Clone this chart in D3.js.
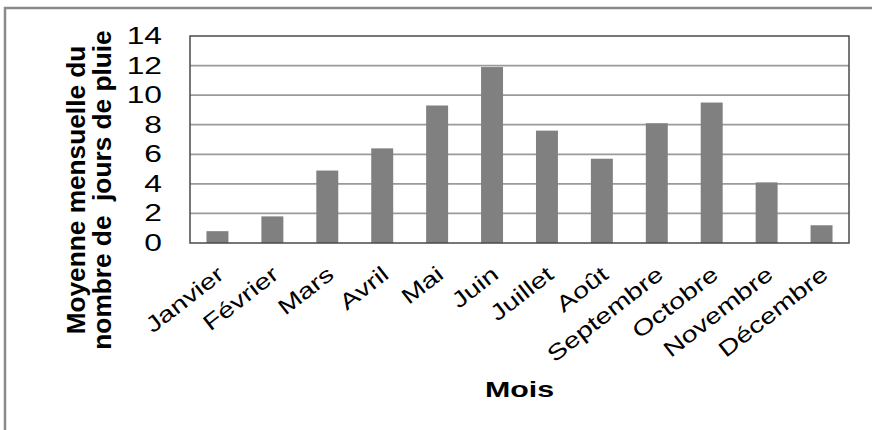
<!doctype html>
<html>
<head>
<meta charset="utf-8">
<title>Jours de pluie</title>
<script src="https://cdn.jsdelivr.net/npm/d3@7"></script>
<style>
  body { margin: 0; background: #fff; }
  text { font-family: "Liberation Sans", Arial, sans-serif; fill: #000; }
</style>
</head>
<body>
<div class="chart"></div>
<script>
// data
var mois = ["Janvier", "Février", "Mars", "Avril", "Mai", "Juin",
            "Juillet", "Août", "Septembre", "Octobre", "Novembre", "Décembre"];
var joursPluie = [0.8, 1.8, 4.9, 6.4, 9.3, 11.9, 7.6, 5.7, 8.1, 9.5, 4.1, 1.2];
var yTicks = [0, 2, 4, 6, 8, 10, 12, 14];
var yTitle = ["Moyenne mensuelle du", "nombre de\u00a0 jours de pluie"];
var xTitle = "Mois";

var width = 872, height = 430;
var plot = {left: 190, top: 36, right: 849, bottom: 243};
var stretch = 1.38; // text in the picture is drawn wide

var svg = d3.select(".chart").append("svg")
            .attr("width", width)
            .attr("height", height);

// outer frame (only top and left edges are visible)
svg.append("path")
   .attr("d", "M5,430 V8 H872")
   .attr("fill", "none")
   .attr("stroke", "#8a8a8a")
   .attr("stroke-width", 2.5);

var x = d3.scaleBand()
          .domain(mois)
          .range([plot.left, plot.right])
          .paddingInner(0.6)
          .paddingOuter(0.3);

var y = d3.scaleLinear()
          .domain([0, 14])
          .range([plot.bottom, plot.top]);

// gridlines
svg.append("g")
   .selectAll("line")
   .data(yTicks.filter(function(d){ return d > 0 && d < 14; }))
   .enter()
   .append("line")
   .attr("x1", plot.left).attr("x2", plot.right)
   .attr("y1", function(d){ return y(d); })
   .attr("y2", function(d){ return y(d); })
   .attr("stroke", "#9a9a9a")
   .attr("stroke-width", 1.8);

// bars
svg.append("g")
   .selectAll("rect")
   .data(joursPluie)
   .enter()
   .append("rect")
   .attr("x", function(d, i){ return x(mois[i]); })
   .attr("y", function(d){ return y(d); })
   .attr("width", x.bandwidth())
   .attr("height", function(d){ return y(0) - y(d); })
   .attr("fill", "#808080");

// plot border
svg.append("rect")
   .attr("x", plot.left).attr("y", plot.top)
   .attr("width", plot.right - plot.left)
   .attr("height", plot.bottom - plot.top)
   .attr("fill", "none")
   .attr("stroke", "#4a4a4a")
   .attr("stroke-width", 1.5);

// y tick labels
svg.append("g")
   .selectAll("text")
   .data(yTicks)
   .enter()
   .append("text")
   .attr("transform", function(d){ return "translate(162," + (y(d) + 8) + ") scale(" + stretch + ",1)"; })
   .attr("text-anchor", "end")
   .style("font-size", "23px")
   .text(function(d){ return d; });

// x tick labels
svg.append("g")
   .selectAll("text")
   .data(mois)
   .enter()
   .append("text")
   .attr("transform", function(d){
      var cx = x(d) + x.bandwidth() / 2;
      return "translate(" + (cx + 8) + ",277) rotate(-38) scale(1.3,1)";
   })
   .attr("text-anchor", "end")
   .style("font-size", "22px")
   .text(function(d){ return d; });

// axis titles
svg.append("text")
   .attr("transform", "translate(" + ((plot.left + plot.right) / 2) + ",397) scale(" + stretch + ",1)")
   .attr("text-anchor", "middle")
   .style("font-size", "22px")
   .style("font-weight", "bold")
   .text(xTitle);

svg.append("g")
   .selectAll("text")
   .data(yTitle)
   .enter()
   .append("text")
   .attr("transform", function(d, i){ return "translate(" + (85 + i * 26) + ",190) rotate(-90) scale(1.05,1)"; })
   .attr("text-anchor", "middle")
   .style("font-size", "25px")
   .style("font-weight", "bold")
   .text(function(d){ return d; });
</script>
</body>
</html>
